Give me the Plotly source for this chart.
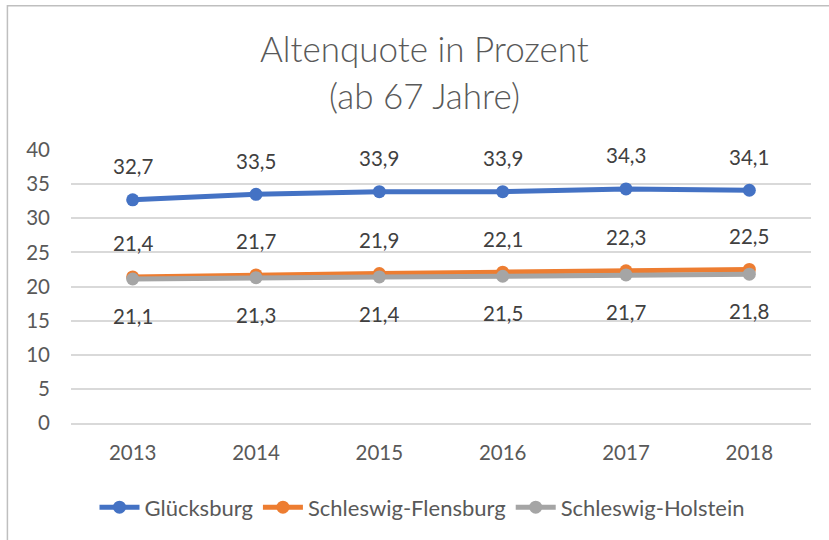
import plotly.graph_objects as go

years = ["2013", "2014", "2015", "2016", "2017", "2018"]
gluecksburg = [32.7, 33.5, 33.9, 33.9, 34.3, 34.1]
schleswig_flensburg = [21.4, 21.7, 21.9, 22.1, 22.3, 22.5]
schleswig_holstein = [21.1, 21.3, 21.4, 21.5, 21.7, 21.8]
series_names = ["Glücksburg", "Schleswig-Flensburg", "Schleswig-Holstein"]
colors = ["#4472C4", "#ED7D31", "#A5A5A5"]
label_shift = [33.5, 33.5, -37]

FONT = "Lato"
FS = 20.5
series = [gluecksburg, schleswig_flensburg, schleswig_holstein]

fig = go.Figure()
annotations = []
for name, vals, col, sh in zip(series_names, series, colors, label_shift):
    fig.add_trace(go.Scatter(
        x=years, y=vals, name=name, mode="lines+markers",
        line=dict(color=col, width=5),
        marker=dict(color=col, size=13),
    ))
    for i, v in enumerate(vals):
        annotations.append(dict(
            x=i, y=v, text=f"{v:.1f}".replace(".", ","), showarrow=False,
            yshift=sh, xref="x", yref="y",
            font=dict(family=FONT, size=FS, color="#404040"),
        ))

TITLE_FONT = dict(family=FONT, size=35, color="#595959", weight=300)
annotations.append(dict(x=0.4777, y=1.374, xref="paper", yref="paper",
                        text="Altenquote in Prozent", showarrow=False,
                        xanchor="center", yanchor="middle", font=TITLE_FONT))
annotations.append(dict(x=0.4777, y=1.203, xref="paper", yref="paper",
                        text="(ab 67 Jahre)", showarrow=False,
                        xanchor="center", yanchor="middle", font=TITLE_FONT))

fig.update_layout(
    width=829, height=540,
    margin=dict(l=71, r=18, t=150, b=116.5, pad=0),
    paper_bgcolor="white", plot_bgcolor="white",
    annotations=annotations,
    showlegend=True,
    legend=dict(orientation="h", x=0.475, xanchor="center", y=-0.309, yanchor="middle",
                font=dict(family=FONT, size=22, color="#595959"),
                itemwidth=40, tracegroupgap=0),
    xaxis=dict(type="category", range=[-0.5, 5.5], showgrid=False, showline=True,
               linecolor="#D9D9D9", linewidth=1.5, ticks="", ticklabelstandoff=11,
               tickfont=dict(family=FONT, size=FS, color="#595959"), fixedrange=True),
    yaxis=dict(range=[0, 40], dtick=5, showgrid=True, gridcolor="#D9D9D9", gridwidth=1.5,
               zeroline=False, showline=False, ticks="", ticklabelstandoff=20,
               tickfont=dict(family=FONT, size=FS, color="#595959"), fixedrange=True),
    shapes=[dict(type="rect", xref="paper", yref="paper",
                 x0=(7.5 - 71) / 739, x1=1.1, y0=-0.5, y1=(423.5 - 5.5) / 273.5,
                 line=dict(color="#BFBFBF", width=1.5), fillcolor="rgba(0,0,0,0)", layer="below")],
)

fig.write_html("out.html", config={"displayModeBar": False},
               post_script="document.body.style.margin='0';document.body.style.overflow='hidden';")
